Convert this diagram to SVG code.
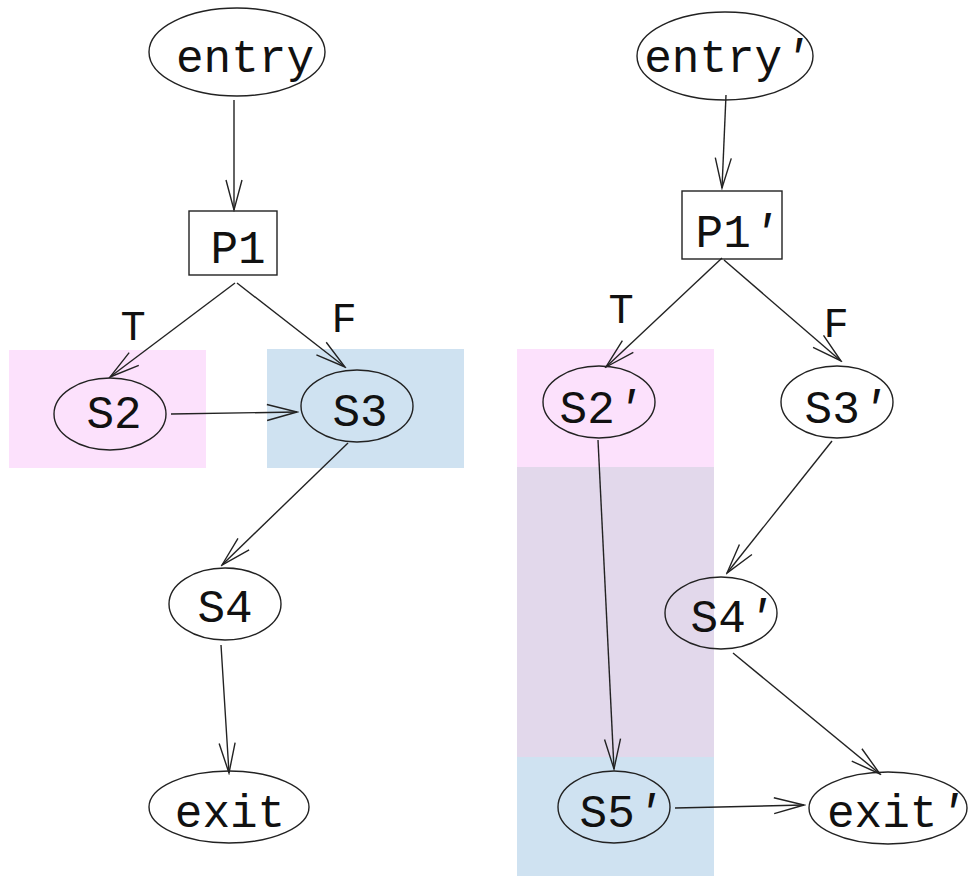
<svg xmlns="http://www.w3.org/2000/svg" width="968" height="876" viewBox="0 0 968 876">
<style>
.bg{fill:#ffffff}
.node{fill:none;stroke:#222;stroke-width:1.4}
.lbl{font-family:"Liberation Mono","DejaVu Sans Mono",monospace;font-size:46px;fill:#111;text-anchor:middle}
.elbl{font-family:"Liberation Mono","DejaVu Sans Mono",monospace;font-size:42px;fill:#111;text-anchor:middle}
.pr{font-style:italic}
.edge{fill:none;stroke:#222;stroke-width:1.4;marker-end:url(#arr)}
.pink{fill:#fce1fc}
.blue{fill:#cfe2f1}
.purple{fill:#e2d8eb}
</style>
<defs>
<marker id="arr" viewBox="-32 -10 34 20" refX="0" refY="0" markerWidth="34" markerHeight="20" markerUnits="userSpaceOnUse" orient="auto">
<path d="M-30,-8 L0,0 L-30,8" fill="none" stroke="#222" stroke-width="1.4"/>
</marker>
</defs>
<rect class="bg" x="0" y="0" width="968" height="876"/>
<g id="highlights">
<rect class="pink" x="9" y="350" width="197" height="118"/>
<rect class="blue" x="267" y="349" width="197" height="119"/>
<rect class="pink" x="517" y="349" width="197" height="118"/>
<rect class="purple" x="517" y="467" width="197" height="290"/>
<rect class="blue" x="517" y="757" width="197" height="119"/>
</g>
<g id="connectors">
<line class="edge" x1="234" y1="100" x2="234" y2="210"/>
<line class="edge" x1="235" y1="283" x2="110" y2="377"/>
<line class="edge" x1="237" y1="283" x2="345" y2="367"/>
<line class="edge" x1="171" y1="414" x2="297" y2="412"/>
<line class="edge" x1="348" y1="443" x2="222" y2="565"/>
<line class="edge" x1="221" y1="645" x2="229" y2="773"/>
<line class="edge" x1="726" y1="95" x2="722" y2="188"/>
<line class="edge" x1="722" y1="258" x2="606" y2="367"/>
<line class="edge" x1="724" y1="260" x2="841" y2="361"/>
<line class="edge" x1="598" y1="440" x2="614" y2="769"/>
<line class="edge" x1="832" y1="441" x2="727" y2="573"/>
<line class="edge" x1="733" y1="653" x2="880" y2="774"/>
<line class="edge" x1="675" y1="808" x2="804" y2="805"/>
<text class="elbl" x="133" y="340">T</text>
<text class="elbl" x="344" y="332">F</text>
<text class="elbl" x="621" y="323">T</text>
<text class="elbl" x="836" y="337">F</text>
</g>
<g id="entry"><ellipse class="node" cx="237" cy="52" rx="88" ry="44"/><text class="lbl" x="245" y="72">entry</text></g>
<g id="P1"><rect class="node" x="189" y="211" width="88" height="64"/><text class="lbl" x="238" y="263">P1</text></g>
<g id="S2"><ellipse class="node" cx="110" cy="414" rx="56" ry="36"/><text class="lbl" x="114" y="428">S2</text></g>
<g id="S3"><ellipse class="node" cx="357" cy="406" rx="56" ry="36"/><text class="lbl" x="360" y="426">S3</text></g>
<g id="S4"><ellipse class="node" cx="225" cy="604" rx="56" ry="36"/><text class="lbl" x="225" y="622">S4</text></g>
<g id="exit"><ellipse class="node" cx="229" cy="807" rx="80" ry="36"/><text class="lbl" x="230" y="827">exit</text></g>
<g id="entry2"><ellipse class="node" cx="725" cy="56" rx="88" ry="44"/><text class="lbl" x="727" y="72">entry<tspan class="pr">′</tspan></text></g>
<g id="P1p"><rect class="node" x="682" y="191" width="100" height="68"/><text class="lbl" x="737" y="247">P1<tspan class="pr">′</tspan></text></g>
<g id="S2p"><ellipse class="node" cx="599" cy="402" rx="56" ry="36"/><text class="lbl" x="601" y="423">S2<tspan class="pr">′</tspan></text></g>
<g id="S3p"><ellipse class="node" cx="837" cy="402" rx="56" ry="36"/><text class="lbl" x="846" y="423">S3<tspan class="pr">′</tspan></text></g>
<g id="S4p"><ellipse class="node" cx="721" cy="613" rx="56" ry="36"/><text class="lbl" x="732" y="632">S4<tspan class="pr">′</tspan></text></g>
<g id="S5p"><ellipse class="node" cx="614" cy="807" rx="56" ry="36"/><text class="lbl" x="621" y="827">S5<tspan class="pr">′</tspan></text></g>
<g id="exitp"><ellipse class="node" cx="888" cy="808" rx="79" ry="36"/><text class="lbl" x="896" y="827">exit<tspan class="pr">′</tspan></text></g>
</svg>
